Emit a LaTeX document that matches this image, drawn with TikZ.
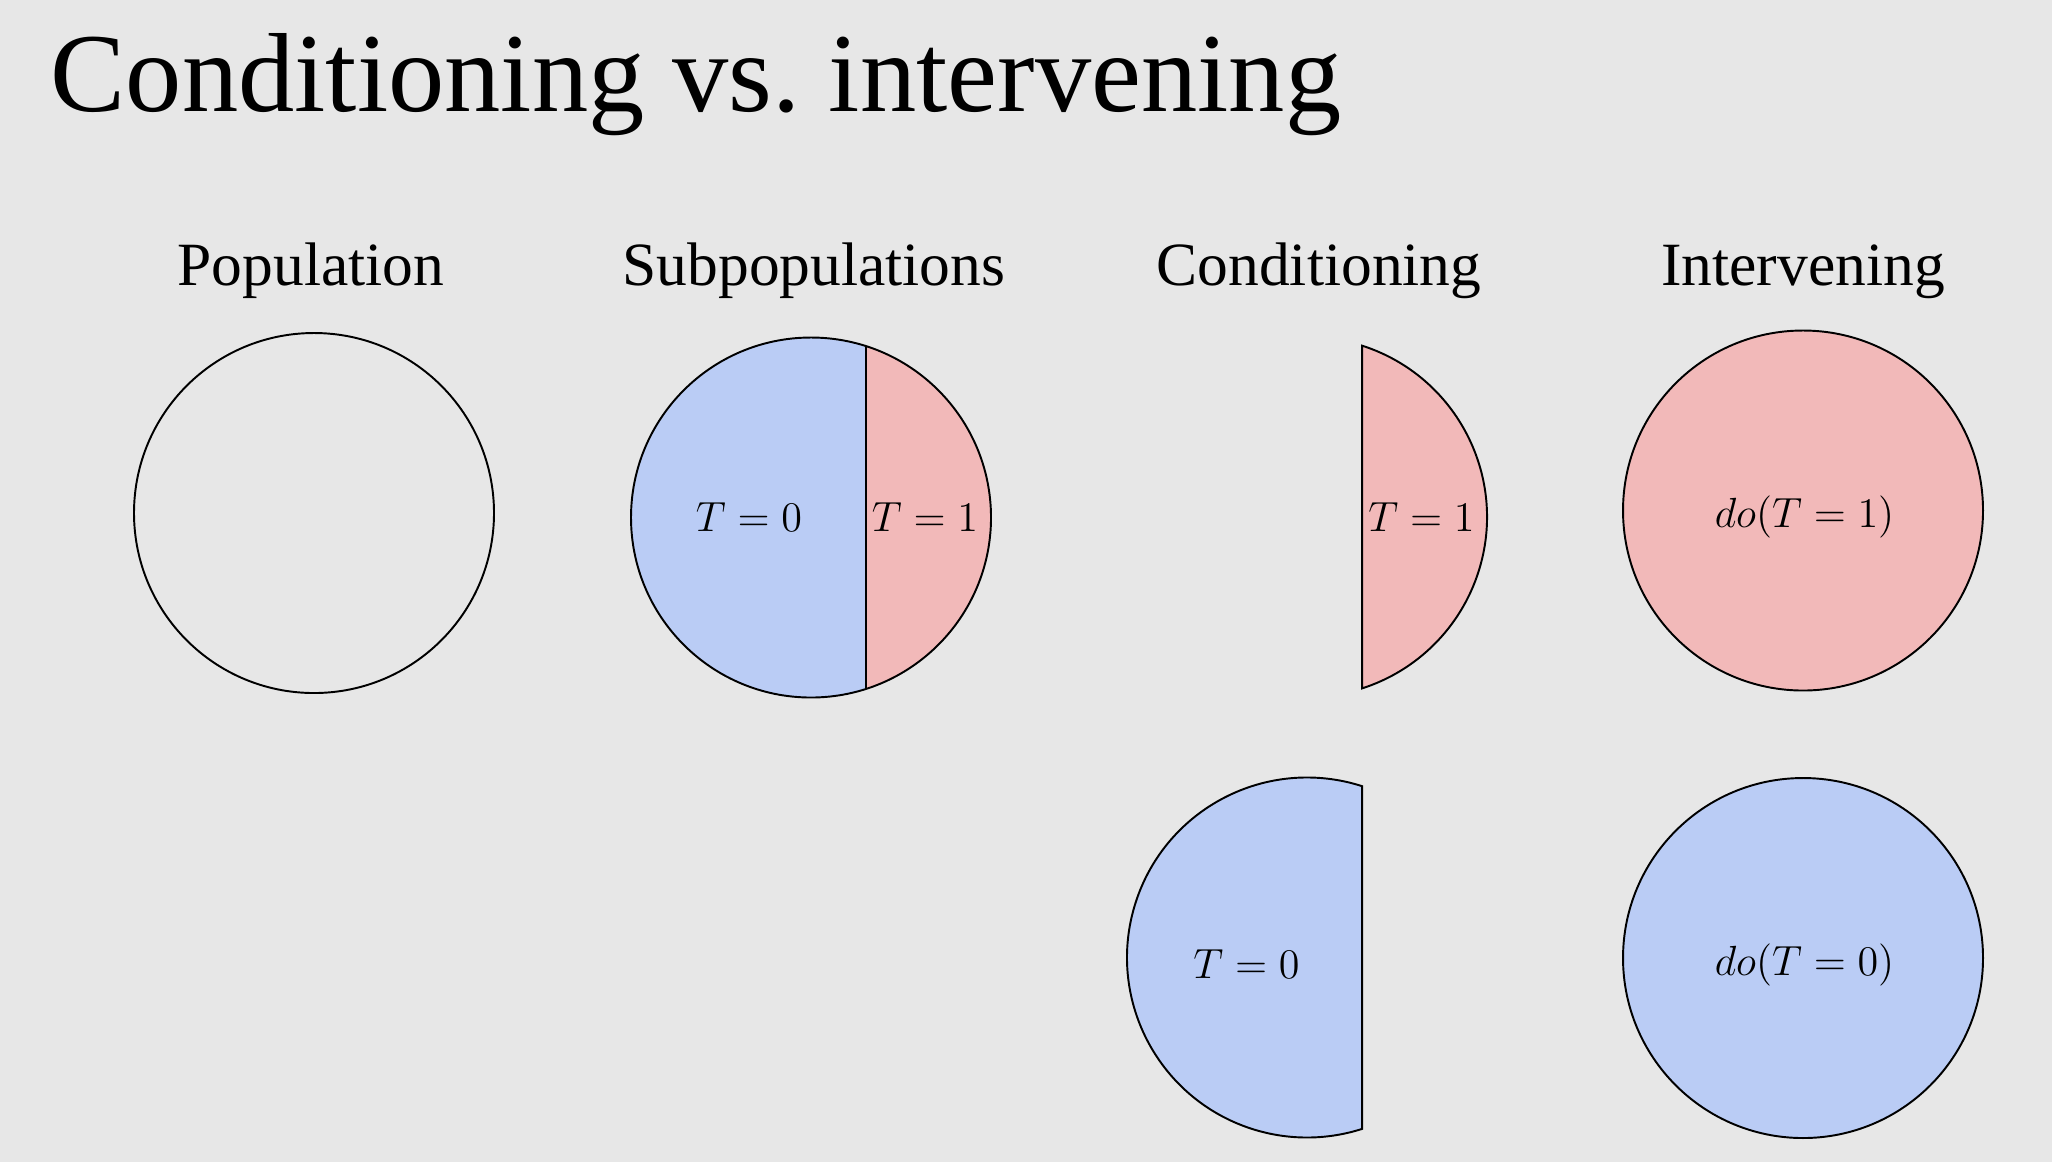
\documentclass[tikz,border=0pt]{standalone}
\usepackage[no-math]{fontspec}
\setmainfont{Liberation Serif}
\usepackage{amsmath}
\usepackage{xcolor}
\usepackage{tikz}
\definecolor{slidebg}{RGB}{231,231,231}
\definecolor{treatblue}{RGB}{186,204,245}
\definecolor{treatred}{RGB}{242,185,185}

\begin{document}
\begin{tikzpicture}[scale=0.1, line width=0.55pt]
\tikzstyle{every node}+=[inner sep=0pt]
\tikzstyle{heading}=[anchor=base, font=\fontsize{17.5}{21}\selectfont]
\tikzstyle{lbl}=[anchor=base, font=\fontsize{12.4}{14}\selectfont]
\fill [slidebg] (0,0) rectangle (205.2,-116.2);
\useasboundingbox (0,0) rectangle (205.2,-116.2);
\draw (5.0,-11.1) node [anchor=base west, font=\fontsize{32}{38}\selectfont] (title) {Conditioning vs.\ intervening};
\draw (31.1,-28.5) node [heading] (poptitle) {Population};
\draw (81.4,-28.5) node [heading] (subtitle) {Subpopulations};
\draw (131.9,-28.5) node [heading] (condtitle) {Conditioning};
\draw (180.3,-28.5) node [heading] (intvtitle) {Intervening};
\draw [black] (31.4,-51.3) circle (18);
\fill [treatblue] (81.1,-51.75) circle (18);
\fill [treatred] (81.1,-51.75) ++(72.2:18) arc (72.2:-72.2:18) -- cycle;
\draw [black] (81.1,-51.75) circle (18);
\draw [black] (81.1,-51.75) ++(72.2:18) -- ++(0,-34.28);
\draw (74.9,-53.1) node [lbl] (sub0) {$T=0$};
\draw (92.5,-53.1) node [lbl] (sub1) {$T=1$};
\draw [black, fill=treatred] (130.7,-51.7) ++(72.2:18) arc (72.2:-72.2:18) -- cycle;
\draw (142.15,-53.1) node [lbl] (cond1) {$T=1$};
\draw [black, fill=treatblue] (130.7,-95.75) ++(72.2:18) arc (72.2:287.8:18) -- cycle;
\draw (124.65,-97.8) node [lbl] (cond0) {$T=0$};
\draw [black, fill=treatred] (180.3,-51.05) circle (18);
\draw (180.45,-52.7) node [lbl] (do1) {$do(T=1)$};
\draw [black, fill=treatblue] (180.3,-95.8) circle (18);
\draw (180.45,-97.5) node [lbl] (do0) {$do(T=0)$};
\end{tikzpicture}
\end{document}
